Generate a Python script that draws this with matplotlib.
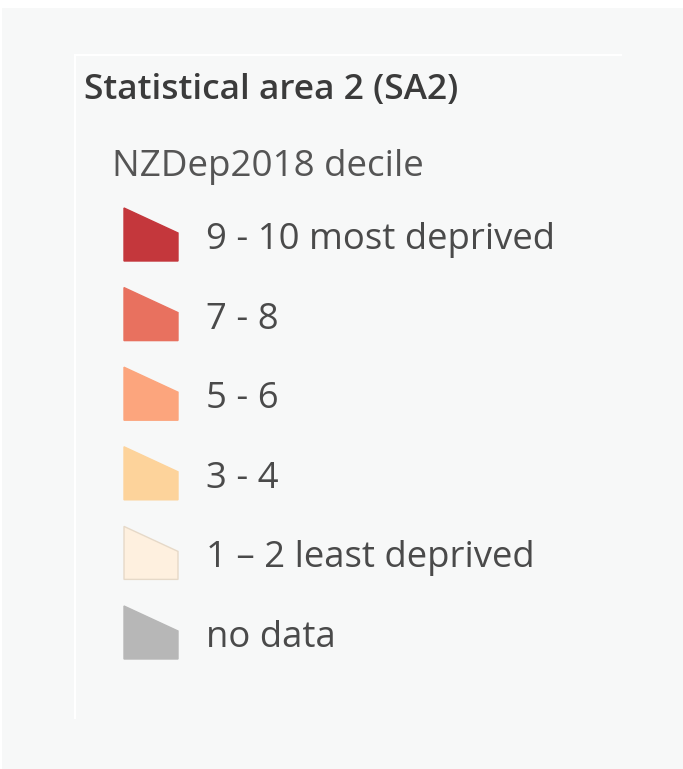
import matplotlib
matplotlib.use('Agg')
import matplotlib.pyplot as plt
from matplotlib.patches import Polygon, Rectangle

plt.rcParams['font.family'] = ['Open Sans', 'DejaVu Sans']

# legend content
title = 'Statistical area 2 (SA2)'
subtitle = 'NZDep2018 decile'
labels = ['9 - 10 most deprived', '7 - 8', '5 - 6', '3 - 4', '1 \u2013 2 least deprived', 'no data']
colors = ['#c4373c', '#e8715f', '#fca57d', '#fdd39b', '#fef0df', '#b7b7b7']

W, H = 683, 769
fig = plt.figure(figsize=(W / 100, H / 100), dpi=100)
fig.patch.set_facecolor('white')
ax = fig.add_axes([0, 0, 1, 1])
ax.set_xlim(0, W); ax.set_ylim(H, 0); ax.axis('off')

# panel background + faint white frame lines
ax.add_patch(Rectangle((2, 8), W, H, fc='#f7f8f8', ec='none', zorder=0))
ax.plot([75, 621], [55, 55], color='white', lw=1.5, zorder=1)
ax.plot([75, 75], [55, 718], color='white', lw=1.5, zorder=1)

ax.text(84, 99, title, fontsize=25.5, weight='semibold', color='#3b3b3b', va='baseline')
ax.text(112, 176, subtitle, fontsize=26.5, color='#555555', va='baseline')

step = 79.6
for i, (lab, c) in enumerate(zip(labels, colors)):
    y0 = 208 + i * step
    ec = '#e6d9c8' if i == 4 else c
    ax.add_patch(Polygon([(124, y0), (178, y0 + 25), (178, y0 + 53), (124, y0 + 53)],
                         closed=True, fc=c, ec=ec, lw=1.0, zorder=3))
    ax.text(206, 249 + i * step, lab, fontsize=26.3, color='#4a4a4a', va='baseline')

fig.savefig('out.png', dpi=100, facecolor='white')
